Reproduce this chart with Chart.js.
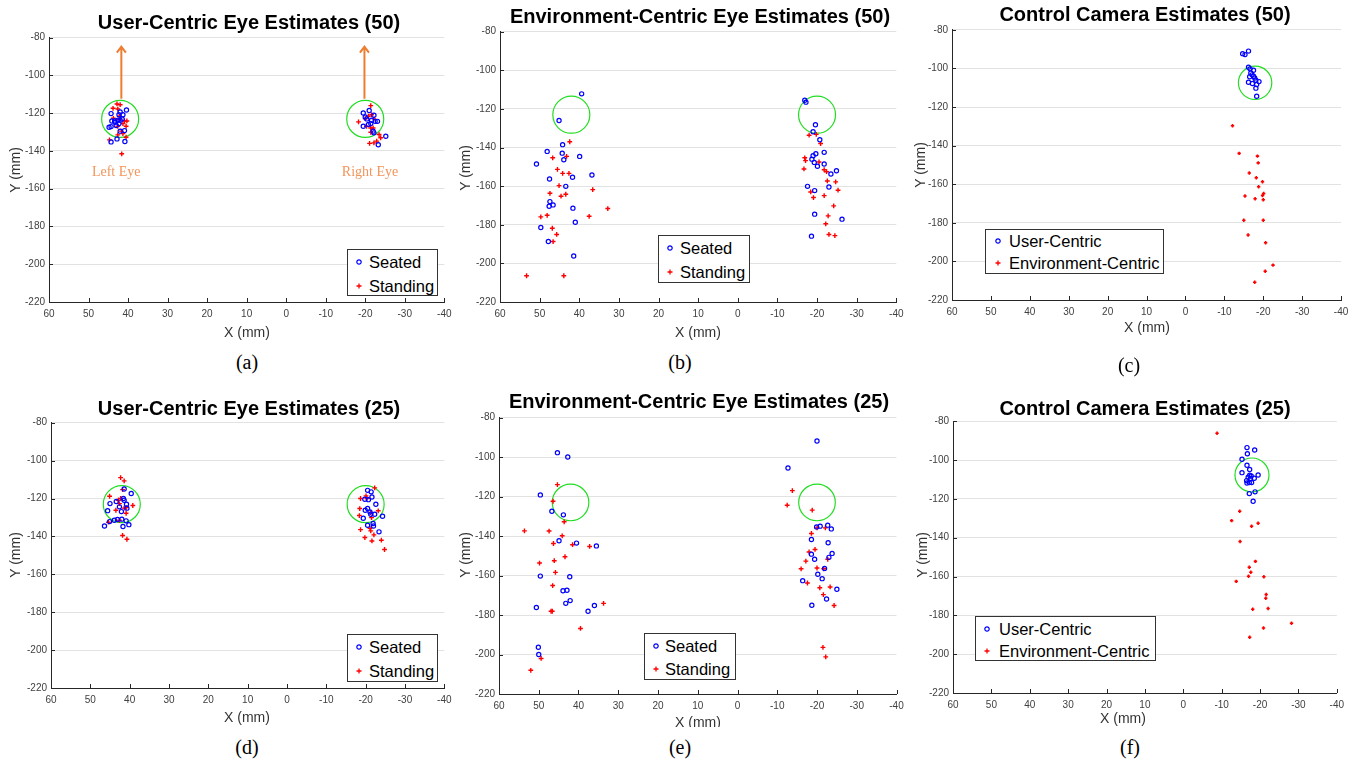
<!DOCTYPE html>
<html>
<head>
<meta charset="utf-8">
<script src="https://cdn.jsdelivr.net/npm/chart.js@4.4.0/dist/chart.umd.min.js"></script>
<style>
  body { margin: 0; background: #fff; width: 1364px; height: 762px; position: relative; overflow: hidden;
         font-family: "Liberation Sans", Arial, Helvetica, sans-serif; }
  canvas { position: absolute; }
  .t { position: absolute; white-space: nowrap; transform: translate(-50%, -50%); }
  .title { font-weight: bold; font-size: 20px; color: #000; }
  .ax { font-size: 14px; color: #333; }
  .ylab { transform: translate(-50%, -50%) rotate(-90deg); }
  .cap { font-family: "Liberation Serif", "Times New Roman", serif; font-size: 20px; color: #000; }
  .leg { position: absolute; border: 1.3px solid #333; background: #fff; font-size: 16.5px; box-sizing: border-box; }
  .leg svg { position: absolute; }
  .leg span { position: absolute; transform: translateY(-50%); white-space: nowrap; }
</style>
</head>
<body>

<canvas id="pa"></canvas>
<canvas id="pb"></canvas>
<canvas id="pc"></canvas>
<canvas id="pd"></canvas>
<canvas id="pe"></canvas>
<canvas id="pf"></canvas>

<div class="t title" style="left:249px;top:22px">User-Centric Eye Estimates (50)</div>
<div class="t title" style="left:700px;top:16px">Environment-Centric Eye Estimates (50)</div>
<div class="t title" style="left:1145px;top:14px">Control Camera Estimates (50)</div>
<div class="t title" style="left:249px;top:408px">User-Centric Eye Estimates (25)</div>
<div class="t title" style="left:699px;top:401px">Environment-Centric Eye Estimates (25)</div>
<div class="t title" style="left:1145px;top:408px">Control Camera Estimates (25)</div>

<div class="t ax ylab" style="left:15px;top:170px">Y (mm)</div>
<div class="t ax ylab" style="left:465px;top:168px">Y (mm)</div>
<div class="t ax ylab" style="left:920px;top:165px">Y (mm)</div>
<div class="t ax ylab" style="left:15px;top:555px">Y (mm)</div>
<div class="t ax ylab" style="left:465px;top:555px">Y (mm)</div>
<div class="t ax ylab" style="left:922px;top:555px">Y (mm)</div>

<div class="t ax" style="left:247px;top:332px">X (mm)</div>
<div class="t ax" style="left:698px;top:332px">X (mm)</div>
<div class="t ax" style="left:1147px;top:327px">X (mm)</div>
<div class="t ax" style="left:247px;top:717px">X (mm)</div>
<div style="position:absolute;left:660px;top:713px;width:80px;height:14px;overflow:hidden">
  <div class="t ax" style="left:38px;top:9px">X (mm)</div>
</div>
<div class="t ax" style="left:1123px;top:718px">X (mm)</div>

<div class="t cap" style="left:247px;top:362px">(a)</div>
<div class="t cap" style="left:680px;top:362px">(b)</div>
<div class="t cap" style="left:1129px;top:365px">(c)</div>
<div class="t cap" style="left:247px;top:747px">(d)</div>
<div class="t cap" style="left:680px;top:747px">(e)</div>
<div class="t cap" style="left:1130px;top:747px">(f)</div>

<script>
// axis ticks (shared by all six panels)
const xTickVals = [60, 50, 40, 30, 20, 10, 0, -10, -20, -30, -40];
const yTickVals = [-80, -100, -120, -140, -160, -180, -200, -220];

// target circles (eye positions)
const eyeCircles = [[42, -123], [-20, -123]];
const ctrlCircle50 = [[-17.9, -107.4]];
const ctrlCircle25 = [[-17.9, -107.7]];

// annotations in panel (a)
const arrowX = [41.7, -19.8];
const arrowFrom = -112.3;
const arrowTo = -84.7;
const eyeLabels = ['Left Eye', 'Right Eye'];
const eyeLabelX = [43, -21.2];
const eyeLabelY = -151.5;

// (a) user-centric, 50
const aSeated = [
  [44.3,-120.2],[44.1,-124.1],[43.4,-124.1],[44.8,-127.4],[44.3,-127.1],[43.0,-126.5],[42.3,-120.8],
  [42.0,-119.3],[40.4,-118.3],[41.5,-123.0],[42.6,-123.7],[42.0,-129.5],[40.9,-129.2],[42.8,-133.6],
  [44.3,-135.2],[40.8,-135.0],[41.3,-120.8],[42.3,-125.5],[43.3,-124.8],[42.0,-123.7],
  [-19.5,-119.9],[-21.0,-118.6],[-20.0,-122.0],[-22.2,-121.1],[-22.5,-124.3],[-23.1,-124.3],
  [-19.5,-126.9],[-20.8,-126.0],[-21.4,-125.5],[-22.0,-129.5],[-22.2,-130.4],[-25.2,-132.2],
  [-23.3,-136.7],[-20.4,-123.0],[-21.6,-123.7]
];
const aStanding = [
  [42.8,-115.1],[42.0,-115.5],[43.8,-117.4],[42.6,-117.8],[43.7,-122.7],[42.2,-121.6],[40.3,-124.1],
  [40.9,-124.1],[41.3,-125.5],[40.5,-126.9],[42.6,-126.9],[41.7,-129.5],[41.3,-130.8],[42.6,-131.5],
  [40.5,-132.7],[44.7,-134.1],[41.6,-141.5],[42.2,-123.4],
  [-21.4,-116.0],[-18.3,-124.6],[-20.0,-122.9],[-21.6,-120.8],[-22.2,-123.0],[-20.3,-126.9],
  [-21.4,-127.8],[-22.0,-127.8],[-21.4,-130.1],[-23.5,-131.3],[-23.9,-133.0],[-22.9,-134.8],
  [-21.1,-136.0],[-22.2,-135.7],[-20.8,-121.6]
];

// (b) environment-centric, 50
const bSeated = [
  [39.4,-112.2],[45.1,-126.0],[44.2,-138.5],[48.1,-142.0],[44.3,-142.9],[43.9,-146.3],[39.9,-144.6],
  [50.8,-148.5],[41.7,-155.4],[36.8,-154.2],[47.5,-156.3],[43.4,-160.1],[47.4,-168.0],[46.6,-169.7],
  [47.6,-170.4],[41.6,-171.4],[41.0,-178.7],[49.7,-181.4],[47.8,-188.7],[41.4,-196.2],
  [-16.9,-115.5],[-17.2,-116.5],[-19.6,-128.2],[-19.0,-131.8],[-20.7,-136.0],[-21.8,-142.5],
  [-19.7,-143.2],[-19.0,-144.2],[-18.7,-146.0],[-19.3,-147.7],[-21.8,-148.5],[-20.1,-149.7],
  [-24.9,-152.0],[-23.5,-153.7],[-17.6,-160.1],[-23.0,-160.4],[-19.4,-162.3],[-19.4,-174.5],
  [-26.3,-177.1],[-18.6,-185.9]
];
const bStanding = [
  [42.4,-137.0],[46.7,-145.3],[43.2,-144.6],[45.5,-151.3],[44.2,-153.4],[42.6,-153.4],[45.1,-159.7],
  [36.6,-161.8],[47.4,-163.7],[43.4,-164.2],[44.6,-165.2],[32.8,-171.6],[49.7,-175.9],[48.1,-175.1],
  [37.5,-175.6],[46.8,-181.8],[45.7,-185.0],[46.6,-188.7],[53.3,-206.4],[43.9,-206.4],
  [-18.0,-133.6],[-19.8,-133.2],[-20.9,-137.9],[-16.9,-145.3],[-17.1,-146.8],[-20.5,-147.5],
  [-16.7,-151.1],[-21.8,-151.5],[-22.4,-152.5],[-22.6,-157.3],[-24.7,-157.8],[-25.3,-162.1],
  [-18.4,-163.0],[-21.8,-164.9],[-19.1,-165.9],[-24.2,-170.2],[-22.8,-175.4],[-22.2,-179.5],
  [-23.0,-185.0],[-24.5,-185.6]
];

// (c) control camera, 50
const cUser = [
  [-14.7,-92.3],[-15.3,-92.8],[-16.2,-91.0],[-16.2,-99.3],[-16.6,-100.2],[-17.5,-100.9],[-16.8,-102.3],
  [-17.1,-103.3],[-16.5,-104.3],[-17.5,-104.0],[-17.8,-104.9],[-18.1,-106.1],[-18.9,-106.8],
  [-16.2,-107.1],[-17.2,-107.8],[-18.3,-108.3],[-18.1,-110.2],[-18.3,-114.4]
];
const cEnv = [
  [-12.1,-129.7],[-13.8,-144.0],[-18.5,-145.4],[-18.7,-148.9],[-16.4,-154.2],[-18.2,-156.6],
  [-19.8,-158.7],[-18.8,-161.3],[-20.1,-164.8],[-19.8,-165.8],[-15.3,-166.1],[-17.9,-167.5],
  [-20.0,-168.0],[-15.0,-178.7],[-20.0,-178.7],[-16.1,-186.3],[-20.6,-190.3],[-22.5,-201.9],
  [-20.5,-205.1],[-17.8,-210.8]
];

// (d) user-centric, 25
const dSeated = [
  [41.4,-115.0],[39.6,-117.4],[41.6,-120.0],[41.4,-120.9],[43.4,-121.6],[45.0,-122.7],[42.6,-124.4],
  [40.8,-123.0],[40.7,-125.1],[45.6,-126.4],[42.1,-126.9],[45.1,-132.2],[43.9,-131.5],[43.1,-131.1],
  [42.0,-130.9],[40.9,-131.8],[40.2,-133.8],[41.7,-134.8],[46.4,-134.5],
  [-20.5,-115.7],[-21.4,-116.5],[-21.6,-119.2],[-19.8,-120.4],[-20.7,-120.6],[-22.6,-123.0],
  [-19.9,-126.2],[-20.5,-125.3],[-21.1,-127.1],[-21.3,-128.3],[-22.3,-128.3],[-19.4,-130.4],
  [-24.3,-129.4],[-21.9,-133.2],[-22.0,-134.5],[-20.5,-134.1],[-23.4,-137.6]
];
const dStanding = [
  [42.3,-109.0],[41.4,-110.7],[41.8,-115.3],[45.1,-118.8],[42.3,-120.0],[42.9,-120.9],[42.6,-122.7],
  [39.2,-123.7],[40.9,-124.8],[43.5,-126.2],[40.9,-127.8],[42.6,-131.5],[45.4,-132.5],[41.8,-139.5],
  [40.7,-141.5],[41.4,-125.1],
  [-22.3,-114.4],[-18.7,-120.0],[-20.1,-118.6],[-20.3,-120.0],[-18.5,-125.3],[-18.4,-129.0],
  [-21.3,-127.4],[-21.5,-130.1],[-23.2,-126.5],[-18.7,-136.4],[-21.3,-137.1],[-22.1,-139.2],
  [-19.8,-140.6],[-21.6,-142.4],[-24.0,-142.0],[-24.8,-146.9],[-21.1,-135.7]
];

// (e) environment-centric, 25
const eSeated = [
  [45.3,-97.8],[42.7,-100.0],[49.6,-119.2],[46.7,-127.5],[43.8,-129.3],[44.9,-142.4],[40.5,-143.6],
  [35.5,-145.0],[49.6,-160.3],[42.2,-160.6],[43.9,-167.7],[42.9,-167.5],[42.1,-172.7],[43.2,-174.1],
  [50.6,-176.2],[36.0,-175.2],[37.6,-178.1],[50.1,-196.3],[50.0,-200.0],
  [-20.0,-91.9],[-12.7,-105.6],[-19.9,-135.4],[-20.8,-135.0],[-22.7,-134.5],[-23.6,-136.4],
  [-18.6,-141.8],[-22.8,-143.4],[-23.8,-148.8],[-23.0,-150.8],[-18.6,-149.2],[-19.4,-151.8],
  [-21.9,-156.4],[-20.2,-159.4],[-21.3,-161.6],[-16.4,-162.6],[-25.0,-167.0],[-22.4,-171.9],
  [-18.7,-175.1]
];
const eStanding = [
  [45.3,-114.0],[46.4,-122.4],[43.6,-132.8],[53.6,-137.4],[47.4,-137.5],[44.1,-139.9],[46.3,-143.8],
  [41.5,-144.4],[37.2,-145.3],[43.4,-150.5],[46.1,-152.5],[49.8,-153.7],[45.8,-158.4],[46.5,-165.1],
  [33.7,-174.1],[46.9,-178.1],[46.6,-178.1],[39.5,-186.8],[49.4,-202.0],[52.0,-208.0],
  [-13.8,-117.0],[-12.5,-124.4],[-18.8,-126.9],[-18.6,-138.7],[-20.0,-135.9],[-22.1,-135.9],
  [-18.0,-148.1],[-19.5,-146.8],[-22.7,-151.8],[-17.2,-152.7],[-16.0,-156.6],[-20.0,-156.2],
  [-21.7,-156.6],[-17.6,-163.8],[-20.7,-166.2],[-23.3,-165.8],[-21.6,-169.7],[-24.3,-175.2],
  [-21.5,-196.4],[-22.2,-201.2]
];

// (f) control camera, 25
const fUser = [
  [-16.6,-93.6],[-18.6,-94.8],[-16.7,-96.8],[-15.3,-99.6],[-16.6,-102.7],[-17.3,-104.9],[-15.3,-106.5],
  [-19.5,-107.7],[-17.3,-107.8],[-17.7,-108.2],[-16.9,-108.9],[-18.5,-109.4],[-16.5,-110.6],
  [-17.2,-111.6],[-17.8,-111.6],[-16.6,-111.8],[-18.7,-116.4],[-17.2,-117.3],[-18.2,-121.2],
  [-17.5,-109.5]
];
const fEnv = [
  [-8.8,-86.2],[-14.7,-126.4],[-12.6,-131.2],[-19.5,-132.6],[-17.8,-134.1],[-14.8,-142.0],
  [-18.8,-152.2],[-17.2,-155.2],[-17.6,-157.8],[-17.0,-159.9],[-21.0,-160.1],[-13.8,-162.5],
  [-21.6,-169.3],[-21.5,-171.2],[-18.1,-176.9],[-22.1,-176.5],[-28.2,-184.1],[-20.9,-186.5],
  [-17.3,-191.3]
];

const BLUE = '#0000ff', RED = '#ff0000', GREEN = '#22dd22', FONT = '"Liberation Sans", Arial, sans-serif';
const toPts = arr => arr.map(p => ({x: p[0], y: p[1]}));

// MATLAB style ticks pointing into the plot
const inTicks = {
  id: 'inTicks',
  afterDatasetsDraw(chart) {
    const {ctx, chartArea: a, scales: {x, y}} = chart;
    ctx.save();
    ctx.strokeStyle = '#262626';
    ctx.lineWidth = 1;
    ctx.beginPath();
    x.ticks.forEach(t => {
      const px = Math.round(x.getPixelForValue(t.value)) + 0.5;
      ctx.moveTo(px, a.bottom); ctx.lineTo(px, a.bottom - 4);
    });
    y.ticks.forEach(t => {
      const py = Math.round(y.getPixelForValue(t.value)) + 0.5;
      ctx.moveTo(a.left, py); ctx.lineTo(a.left + 4, py);
    });
    ctx.stroke();
    ctx.restore();
  }
};

// arrows + "Left Eye"/"Right Eye" in panel (a)
const eyeNotes = {
  id: 'eyeNotes',
  afterDatasetsDraw(chart) {
    const {ctx, scales: {x, y}} = chart;
    ctx.save();
    ctx.strokeStyle = '#ed7d31';
    ctx.lineWidth = 2;
    arrowX.forEach(v => {
      const px = x.getPixelForValue(v), y0 = y.getPixelForValue(arrowFrom), y1 = y.getPixelForValue(arrowTo);
      ctx.beginPath();
      ctx.moveTo(px, y0); ctx.lineTo(px, y1 + 1);
      ctx.moveTo(px - 4.5, y1 + 6); ctx.lineTo(px, y1); ctx.lineTo(px + 4.5, y1 + 6);
      ctx.stroke();
    });
    ctx.fillStyle = '#f2955a';
    ctx.font = '14px "Liberation Serif", "Times New Roman", serif';
    ctx.textAlign = 'center';
    ctx.textBaseline = 'middle';
    eyeLabels.forEach((s, i) => ctx.fillText(s, x.getPixelForValue(eyeLabelX[i]), y.getPixelForValue(eyeLabelY)));
    ctx.restore();
  }
};

function buildConfig(sets, circles, circleR, extra) {
  const datasets = sets.map(s => ({
    label: s.label,
    data: toPts(s.data),
    pointStyle: s.style,
    pointRadius: s.r,
    pointBorderWidth: s.bw,
    pointBorderColor: s.color,
    pointBackgroundColor: 'rgba(0,0,0,0)',
    borderColor: s.color
  }));
  datasets.push({
    label: 'target',
    data: toPts(circles),
    pointStyle: 'circle',
    pointRadius: circleR,
    pointBorderWidth: 1.2,
    pointBorderColor: GREEN,
    pointBackgroundColor: 'rgba(0,0,0,0)'
  });
  return {
    type: 'scatter',
    data: { datasets },
    options: {
      responsive: false,
      animation: false,
      events: [],
      layout: { padding: { left: 0, top: 8, right: 14, bottom: 0 } },
      plugins: { legend: { display: false }, tooltip: { enabled: false } },
      scales: {
        x: {
          type: 'linear', reverse: true, min: -40, max: 60,
          afterBuildTicks: s => { s.ticks = xTickVals.map(v => ({ value: v })); },
          afterFit: s => { s.height = 24; },
          grid: { display: false, drawTicks: false },
          border: { display: true, color: '#262626', width: 1 },
          ticks: { font: { size: 10, family: FONT }, color: '#404040', padding: 6, autoSkip: false, maxRotation: 0 }
        },
        y: {
          type: 'linear', min: -220, max: -80,
          afterBuildTicks: s => { s.ticks = yTickVals.map(v => ({ value: v })); },
          afterFit: s => { s.width = 40; },
          grid: { color: '#e2e2e2', lineWidth: 1, drawTicks: false },
          border: { display: true, color: '#262626', width: 1 },
          ticks: { font: { size: 10, family: FONT }, color: '#404040', padding: 4 }
        }
      }
    },
    plugins: [inTicks].concat(extra || [])
  };
}

// place the canvas so that the plot area lands on frame f (L,R,T,B in page px)
function makePanel(id, f, sets, circles, circleR, extra) {
  const cv = document.getElementById(id);
  let w = f.R - f.L + 54, h = f.B - f.T + 32, x0 = f.L - 40, y0 = f.T - 8;
  cv.width = w; cv.height = h;
  let chart = new Chart(cv, buildConfig(sets, circles, circleR, extra));
  // the library may add its own label padding: measure it and compensate once
  const a = chart.chartArea;
  const dl = a.left - 40, dt = a.top - 8, dr = (w - 14) - a.right, db = (h - 24) - a.bottom;
  chart.destroy();
  x0 -= dl; y0 -= dt; w += dl + dr; h += dt + db;
  cv.width = w; cv.height = h;
  chart = new Chart(cv, buildConfig(sets, circles, circleR, extra));
  cv.style.left = x0 + 'px';
  cv.style.top = y0 + 'px';
  cv.style.position = 'absolute';
}

const seatedStyle = d => ({ label: 'Seated', data: d, style: 'circle', r: 2.1, bw: 1.2, color: BLUE });
const standStyle = d => ({ label: 'Standing', data: d, style: 'cross', r: 2.4, bw: 1.4, color: RED });
const userStyle = d => ({ label: 'User-Centric', data: d, style: 'circle', r: 2.1, bw: 1.2, color: BLUE });
const envStyle = d => ({ label: 'Environment-Centric', data: d, style: 'cross', r: 1.7, bw: 1.6, color: RED });

makePanel('pa', { L: 49, R: 445, T: 38, B: 303 }, [seatedStyle(aSeated), standStyle(aStanding)], eyeCircles, 18.5, [eyeNotes]);
makePanel('pb', { L: 500, R: 897, T: 32, B: 303 }, [seatedStyle(bSeated), standStyle(bStanding)], eyeCircles, 18.5);
makePanel('pc', { L: 952, R: 1342, T: 30, B: 301 }, [userStyle(cUser), envStyle(cEnv)], ctrlCircle50, 16.7);
makePanel('pd', { L: 51, R: 445, T: 423, B: 689 }, [seatedStyle(dSeated), standStyle(dStanding)], eyeCircles, 18.5);
makePanel('pe', { L: 499, R: 897, T: 417, B: 694 }, [seatedStyle(eSeated), standStyle(eStanding)], eyeCircles, 18.3);
makePanel('pf', { L: 953, R: 1337, T: 421, B: 693 }, [userStyle(fUser), envStyle(fEnv)], ctrlCircle25, 17);

// legends (boxed, inside the axes like MATLAB)
const circleSvg = '<svg width="8" height="8"><circle cx="4" cy="4" r="2.2" fill="none" stroke="' + BLUE + '" stroke-width="1.2"/></svg>';
const plusSvg = '<svg width="8" height="8"><path d="M4 1.5V6.5M1.5 4H6.5" stroke="' + RED + '" stroke-width="1.3" fill="none"/></svg>';
function addLegend(b, labels) {
  const box = document.createElement('div');
  box.className = 'leg';
  Object.assign(box.style, { left: b.x + 'px', top: b.y + 'px', width: b.w + 'px', height: b.h + 'px' });
  [circleSvg, plusSvg].forEach((m, i) => {
    box.insertAdjacentHTML('beforeend',
      m.replace('<svg', '<svg style="left:' + (b.mx - 4) + 'px;top:' + (b.rows[i] - 4) + 'px"') +
      '<span style="left:' + b.tx + 'px;top:' + b.rows[i] + 'px">' + labels[i] + '</span>');
  });
  document.body.appendChild(box);
}
const postureNames = ['Seated', 'Standing'];
const methodNames = ['User-Centric', 'Environment-Centric'];
addLegend({ x: 347, y: 249, w: 91, h: 47, rows: [12, 36], mx: 11, tx: 21 }, postureNames);
addLegend({ x: 658, y: 235, w: 92, h: 48, rows: [12, 36], mx: 11, tx: 21 }, postureNames);
addLegend({ x: 985, y: 229, w: 179, h: 45, rows: [11, 33], mx: 12, tx: 23 }, methodNames);
addLegend({ x: 347, y: 634, w: 91, h: 48, rows: [12, 36], mx: 11, tx: 21 }, postureNames);
addLegend({ x: 644, y: 633, w: 92, h: 47, rows: [12, 35], mx: 11, tx: 20 }, postureNames);
addLegend({ x: 975, y: 616, w: 181, h: 45, rows: [12, 34], mx: 11, tx: 23 }, methodNames);
</script>
</body>
</html>
